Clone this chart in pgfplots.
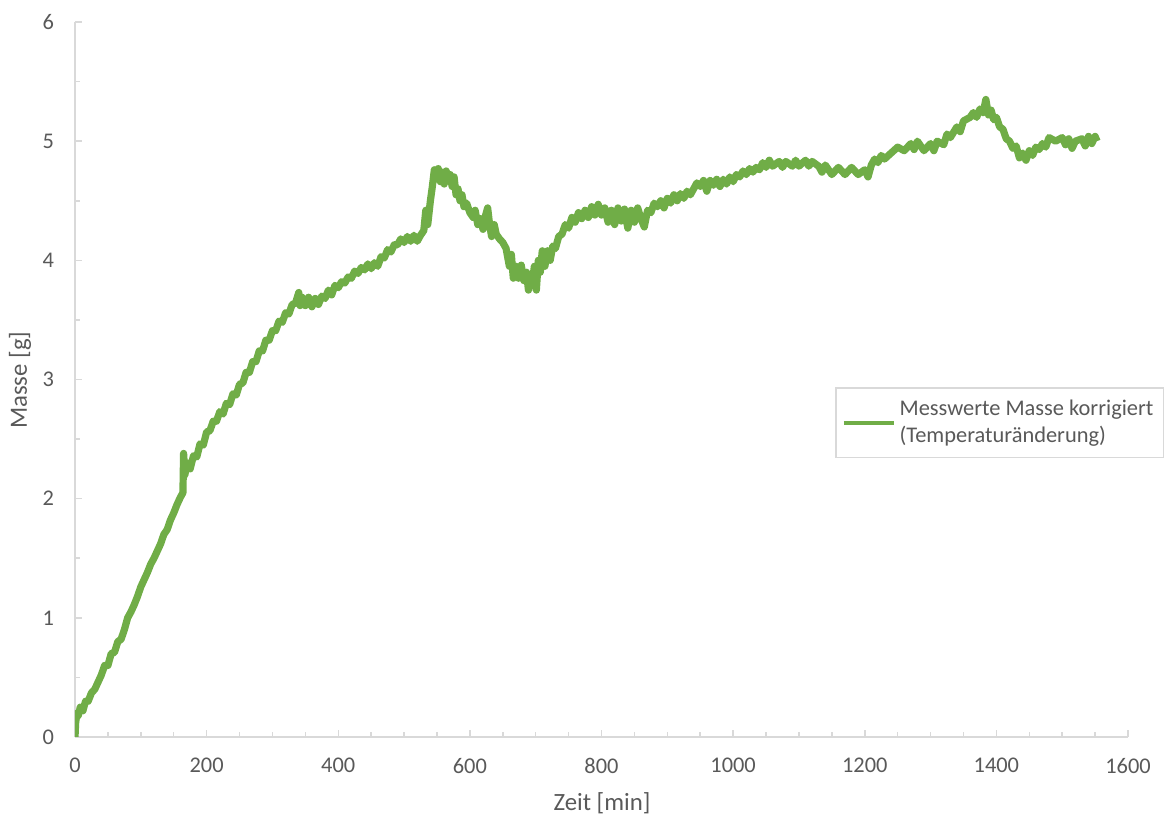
\documentclass[border=0pt]{standalone}
\usepackage{fontspec}
\setmainfont{Carlito}
\usepackage{pgfplots}
\pgfplotsset{compat=1.18}
\definecolor{mgreen}{HTML}{70AD47}
\definecolor{lgrey}{HTML}{D9D9D9}
\definecolor{tgrey}{HTML}{595959}
\begin{document}
\begin{tikzpicture}
\path[use as bounding box] (0,0) rectangle (584.5pt,407pt);
\begin{axis}[
  at={(37.5pt,38.5pt)}, anchor=south west,
  scale only axis, width=526.5pt, height=357.5pt,
  xmin=0, xmax=1600, ymin=0, ymax=6,
  axis lines=left, axis line style={lgrey, line width=0.75pt, -},
  xtick={0,200,...,1600}, minor xtick={50,100,...,1550},
  ytick={0,1,...,6}, minor ytick={0.5,1.5,...,5.5},
  tick align=inside,
  major tick length=3.5pt, minor tick length=2.5pt,
  tick style={lgrey, line width=0.75pt},
  every minor tick/.append style={lgrey, line width=0.75pt},
  /pgf/number format/assume math mode=true,
  /pgf/number format/set thousands separator={},
  ticklabel style={font=\fontsize{11.2}{13}\selectfont, text=tgrey},
  yticklabel style={xshift=-7pt},
  xticklabel style={yshift=-7pt},
  xlabel={Zeit [min]}, ylabel={Masse [g]},
  label style={font=\fontsize{12.4}{14}\selectfont, text=tgrey},
  xlabel style={at={(axis description cs:0.5005,-0.0923)}, anchor=center},
  ylabel style={at={(axis description cs:-0.0522,0.499)}, anchor=center},
  legend style={at={(axis description cs:0.722,0.4895)}, anchor=north west,
    draw=lgrey, line width=0.75pt, font=\fontsize{11.2}{13.7}\selectfont,
    text=tgrey, inner xsep=3pt, inner ysep=4pt,
    nodes={align=left}},
  legend cell align=left,
  legend image code/.code={\draw[#1,line width=1.8pt] (0pt,0pt) -- (25pt,0pt);},
]
\addplot[color=mgreen, line width=3.6pt, line join=round] table {
x y
0 0.0
1 0.12
3 0.2
5 0.18
8 0.25
12 0.22
16 0.3
20 0.3
25 0.37
30 0.4
35 0.46
40 0.52
45 0.6
50 0.6
55 0.7
60 0.71
65 0.8
70 0.82
75 0.9
80 1.0
85 1.05
90 1.11
95 1.18
100 1.26
105 1.32
110 1.38
115 1.45
120 1.5
125 1.56
130 1.62
135 1.7
140 1.74
145 1.82
150 1.88
155 1.95
160 2.01
164 2.05
165 2.38
167 2.2
170 2.3
175 2.25
180 2.36
185 2.35
190 2.46
195 2.45
200 2.56
205 2.57
210 2.65
215 2.65
220 2.73
225 2.71
230 2.8
235 2.79
240 2.88
245 2.87
250 2.96
255 2.97
260 3.06
265 3.06
270 3.15
275 3.15
280 3.24
285 3.24
290 3.33
295 3.33
300 3.41
305 3.41
310 3.49
315 3.48
320 3.56
325 3.55
330 3.63
335 3.64
340 3.73
342 3.62
345 3.69
350 3.62
355 3.69
360 3.61
365 3.68
370 3.63
375 3.7
380 3.68
385 3.75
390 3.71
395 3.79
400 3.77
405 3.82
410 3.81
415 3.86
420 3.85
425 3.91
430 3.89
435 3.94
440 3.92
445 3.97
450 3.93
455 3.98
460 3.95
465 4.03
470 4.02
475 4.09
480 4.07
485 4.13
490 4.13
495 4.18
500 4.15
505 4.2
510 4.16
515 4.21
520 4.16
525 4.21
530 4.25
533 4.42
536 4.3
540 4.5
543 4.62
546 4.76
549 4.7
552 4.77
555 4.66
558 4.74
561 4.64
564 4.75
567 4.68
570 4.72
573 4.62
576 4.7
579 4.55
582 4.6
585 4.5
588 4.55
591 4.45
595 4.48
600 4.4
605 4.36
608 4.42
612 4.3
616 4.35
620 4.26
624 4.38
627 4.44
630 4.3
633 4.2
637 4.3
640 4.22
645 4.18
650 4.15
655 4.1
660 3.95
663 4.05
666 3.85
670 3.95
674 3.85
678 3.96
682 3.83
686 3.9
689 3.75
692 3.88
695 3.82
698 3.95
701 3.75
704 4.0
707 3.9
710 4.08
714 3.95
718 4.08
722 4.0
726 4.12
730 4.1
735 4.2
740 4.22
745 4.3
750 4.27
755 4.36
760 4.32
765 4.4
770 4.35
775 4.42
780 4.36
785 4.45
790 4.38
795 4.47
800 4.38
805 4.44
810 4.32
815 4.42
820 4.3
825 4.44
830 4.33
835 4.43
840 4.27
845 4.42
850 4.32
855 4.44
860 4.35
865 4.28
870 4.42
875 4.4
880 4.48
885 4.45
890 4.5
895 4.44
900 4.52
905 4.48
910 4.55
915 4.5
920 4.56
925 4.52
930 4.58
935 4.55
940 4.6
945 4.65
950 4.62
955 4.67
960 4.58
965 4.67
970 4.63
975 4.68
980 4.62
985 4.68
990 4.64
995 4.7
1000 4.66
1005 4.72
1010 4.7
1015 4.75
1020 4.72
1025 4.77
1030 4.74
1035 4.78
1040 4.76
1045 4.82
1050 4.78
1055 4.84
1060 4.79
1070 4.83
1075 4.78
1080 4.83
1090 4.79
1095 4.84
1100 4.79
1110 4.84
1115 4.79
1120 4.83
1130 4.79
1135 4.74
1140 4.8
1150 4.72
1160 4.78
1170 4.72
1180 4.78
1190 4.72
1200 4.76
1205 4.7
1210 4.8
1215 4.85
1220 4.82
1225 4.88
1230 4.85
1240 4.9
1250 4.95
1260 4.92
1270 4.98
1275 4.93
1280 5.0
1290 4.92
1300 4.98
1305 4.92
1310 5.0
1320 4.97
1325 5.06
1330 5.03
1340 5.12
1345 5.08
1350 5.17
1360 5.2
1365 5.24
1370 5.2
1375 5.27
1380 5.24
1384 5.35
1388 5.22
1392 5.26
1396 5.18
1400 5.2
1405 5.12
1410 5.1
1415 5.02
1420 5.0
1425 4.94
1430 4.96
1435 4.86
1440 4.9
1445 4.84
1450 4.92
1455 4.88
1460 4.95
1465 4.93
1470 4.98
1475 4.95
1480 5.03
1490 5.0
1500 5.03
1505 4.97
1510 5.02
1515 4.94
1520 5.0
1530 5.02
1535 4.96
1540 5.04
1545 4.98
1550 5.04
1553 5.0
};
\addlegendentry{Messwerte Masse korrigiert\\(Temperaturänderung)}
\end{axis}
\end{tikzpicture}
\end{document}
